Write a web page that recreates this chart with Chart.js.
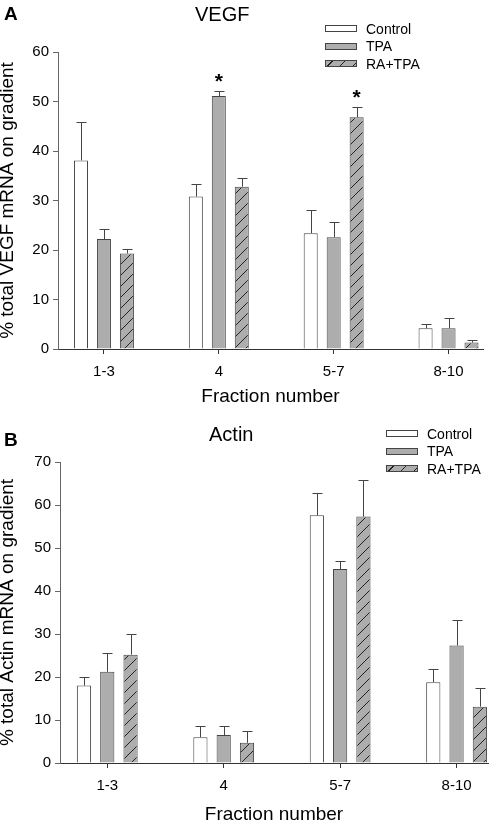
<!DOCTYPE html>
<html>
<head>
<meta charset="utf-8">
<script src="https://cdn.jsdelivr.net/npm/chart.js@4.4.1/dist/chart.umd.min.js"></script>
<style>
  html, body { margin: 0; padding: 0; background: #fff; overflow: hidden; }
  body { width: 492px; height: 823px; position: relative; font-family: Arial, "Liberation Sans", sans-serif; color: #000; }
  canvas { position: absolute; left: 0; }
  #chartA { top: 0; }
  #chartB { top: 410px; }
  .panel { position: absolute; font-weight: bold; font-size: 19px; line-height: 19px; }
  .title { position: absolute; font-size: 20px; line-height: 20px; }
  .legend { position: absolute; font-size: 14px; }
  .legend div { height: 17.5px; display: flex; align-items: center; }
  .legend .box { width: 30px; height: 5px; border: 1px solid #444; margin-right: 9px; }
</style>
</head>
<body>
<canvas id="chartA" width="492" height="410"></canvas>
<canvas id="chartB" width="492" height="420"></canvas>

<div class="panel" style="left:4px; top:4px;">A</div>
<div class="title" style="left:195px; top:4px;">VEGF</div>
<div class="panel" style="left:4px; top:430px;">B</div>
<div class="title" style="left:209px; top:424px;">Actin</div>

<div class="legend" id="legendA" style="left:325px; top:20px;"></div>
<div class="legend" id="legendB" style="left:386px; top:425px;"></div>

<script>
// fraction groups on the x axis
const categories = ['1-3', '4', '5-7', '8-10'];
const seriesNames = ['Control', 'TPA', 'RA+TPA'];

// panel A - VEGF (mean and upper SE)
const vegfControl = [38.1, 30.8, 23.4, 4.2];
const vegfControlErr = [7.7, 2.5, 4.7, 0.9];
const vegfTPA = [22.2, 51.1, 22.6, 4.2];
const vegfTPAErr = [2.0, 1.0, 3.1, 2.1];
const vegfRATPA = [19.3, 32.8, 46.8, 1.3];
const vegfRATPAErr = [1.0, 1.7, 2.1, 0.6];
const vegfTPAStar = [false, true, false, false];
const vegfRATPAStar = [false, false, true, false];
const vegfTicks = [0, 10, 20, 30, 40, 50, 60];

// panel B - Actin
const actinControl = [18.0, 6.0, 57.6, 18.8];
const actinControlErr = [2.1, 2.7, 5.2, 3.0];
const actinTPA = [21.2, 6.5, 45.1, 27.3];
const actinTPAErr = [4.3, 2.0, 1.9, 5.9];
const actinRATPA = [25.2, 4.7, 57.3, 13.1];
const actinRATPAErr = [4.7, 2.7, 8.4, 4.3];
const actinTicks = [0, 10, 20, 30, 40, 50, 60, 70];

const GRAY = '#adadad';
const EDGE = '#444';
const FONT = 'Arial, "Liberation Sans", sans-serif';

Chart.defaults.font.family = FONT;
Chart.defaults.color = '#000';

// diagonal hatch for RA+TPA
function hatchPattern() {
  const c = document.createElement('canvas');
  c.width = 11; c.height = 11;
  const g = c.getContext('2d');
  g.fillStyle = GRAY;
  g.fillRect(0, 0, 11, 11);
  g.strokeStyle = '#222';
  g.lineWidth = 1;
  g.beginPath();
  g.moveTo(-1, 12);
  g.lineTo(12, -1);
  g.stroke();
  return g.createPattern(c, 'repeat');
}

// upper error whiskers + significance stars
const errorBars = {
  id: 'errorBars',
  afterDatasetsDraw(chart) {
    const ctx = chart.ctx;
    const yScale = chart.scales.y;
    chart.data.datasets.forEach((ds, di) => {
      const meta = chart.getDatasetMeta(di);
      meta.data.forEach((bar, i) => {
        const top = yScale.getPixelForValue(ds.values[i] + ds.errors[i]);
        const x = Math.round(bar.x) + 0.5;
        const ty = Math.round(top) + 0.5;
        ctx.save();
        ctx.strokeStyle = EDGE;
        ctx.lineWidth = 1;
        ctx.beginPath();
        ctx.moveTo(x, bar.y);
        ctx.lineTo(x, ty);
        ctx.moveTo(x - 5, ty);
        ctx.lineTo(x + 5, ty);
        ctx.stroke();
        if (ds.stars && ds.stars[i]) {
          ctx.fillStyle = '#000';
          ctx.font = 'bold 21px ' + FONT;
          ctx.textAlign = 'center';
          ctx.textBaseline = 'alphabetic';
          ctx.fillText('*', bar.x, top - 3);
        }
        ctx.restore();
      });
    });
  }
};

function makeDataset(label, values, errors, fill, stars) {
  return {
    label,
    data: values.map((v, i) => ({ x: i, y: v })),
    values, errors, stars,
    backgroundColor: fill,
    borderColor: EDGE,
    borderWidth: 1,
    categoryPercentage: 0.6,
    barPercentage: 0.61
  };
}

function makeChart(id, cfg) {
  return new Chart(document.getElementById(id), {
    type: 'bar',
    data: { datasets: cfg.datasets },
    options: {
      responsive: false,
      animation: false,
      events: [],
      layout: { padding: { top: cfg.padTop, right: cfg.padRight, left: 0, bottom: 0 } },
      plugins: { legend: { display: false }, tooltip: { enabled: false } },
      scales: {
        x: {
          type: 'linear',
          min: cfg.xMin,
          max: cfg.xMax,
          offset: false,
          afterBuildTicks: s => { s.ticks = categories.map((c, i) => ({ value: i })); },
          afterFit: s => { s.height = cfg.xHeight; },
          ticks: { callback: v => categories[v], font: { size: 15 }, color: '#000', padding: 9, maxRotation: 0, autoSkip: false },
          grid: { drawOnChartArea: false, drawTicks: true, tickLength: 5, color: '#333', offset: false },
          border: { display: true, color: '#333', width: 1 },
          title: { display: true, text: 'Fraction number', font: { size: 19 }, color: '#000', padding: { top: 0, bottom: cfg.xTitlePad } }
        },
        y: {
          min: 0,
          max: cfg.yTicks[cfg.yTicks.length - 1],
          afterBuildTicks: s => { s.ticks = cfg.yTicks.map(v => ({ value: v })); },
          afterFit: s => { s.width = cfg.yWidth; },
          ticks: { font: { size: 15 }, color: '#000', padding: 4 },
          grid: { drawOnChartArea: false, drawTicks: true, tickLength: 5, color: '#666' },
          border: { display: true, color: '#666', width: 1 },
          title: { display: true, text: cfg.yTitle, font: { size: 19, lineHeight: 0.85 }, color: '#000', padding: { top: 0, bottom: 0 } }
        }
      }
    },
    plugins: [errorBars]
  });
}

const hatch = hatchPattern();

makeChart('chartA', {
  datasets: [
    makeDataset(seriesNames[0], vegfControl, vegfControlErr, '#fff'),
    makeDataset(seriesNames[1], vegfTPA, vegfTPAErr, GRAY, vegfTPAStar),
    makeDataset(seriesNames[2], vegfRATPA, vegfRATPAErr, hatch, vegfRATPAStar)
  ],
  yTicks: vegfTicks,
  yTitle: '% total VEGF mRNA on gradient',
  xMin: -0.40, xMax: 3.30,
  padTop: 52, padRight: 9,
  yWidth: 58, xHeight: 61, xTitlePad: 2
});

makeChart('chartB', {
  datasets: [
    makeDataset(seriesNames[0], actinControl, actinControlErr, '#fff'),
    makeDataset(seriesNames[1], actinTPA, actinTPAErr, GRAY),
    makeDataset(seriesNames[2], actinRATPA, actinRATPAErr, hatch)
  ],
  yTicks: actinTicks,
  yTitle: '% total Actin mRNA on gradient',
  xMin: -0.406, xMax: 3.27,
  padTop: 52, padRight: 4,
  yWidth: 60, xHeight: 67, xTitlePad: 4
});

// html legends
const legendFills = ['#fff', GRAY,
  'repeating-linear-gradient(135deg, ' + GRAY + ' 0px, ' + GRAY + ' 4px, #222 4px, #222 5px, ' + GRAY + ' 5px, ' + GRAY + ' 9px)'];
['legendA', 'legendB'].forEach(id => {
  const el = document.getElementById(id);
  seriesNames.forEach((name, i) => {
    const row = document.createElement('div');
    const box = document.createElement('span');
    box.className = 'box';
    box.style.background = legendFills[i];
    const txt = document.createElement('span');
    txt.textContent = name;
    row.appendChild(box);
    row.appendChild(txt);
    el.appendChild(row);
  });
});
</script>
</body>
</html>
